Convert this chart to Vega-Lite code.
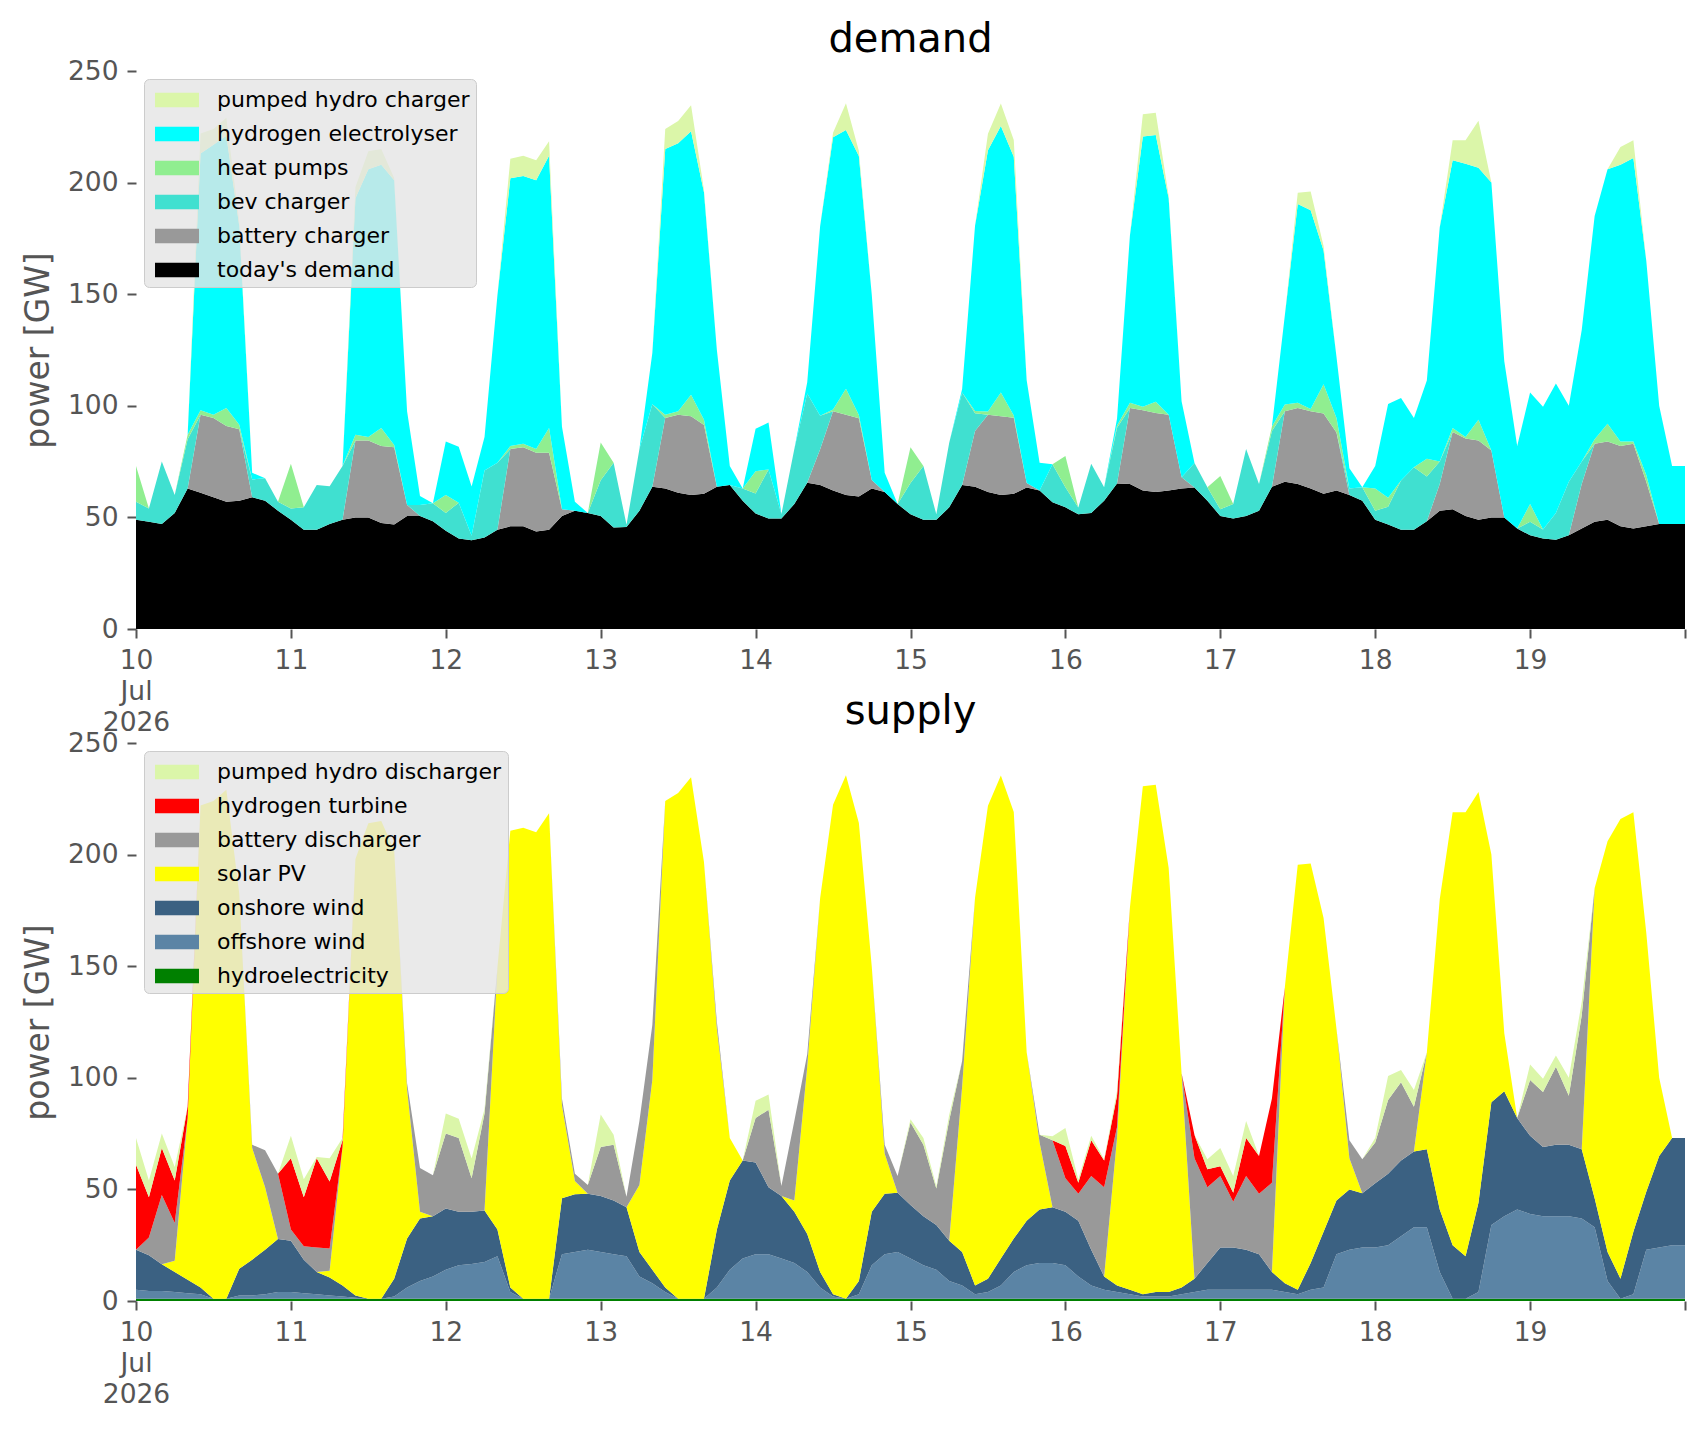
{
  "$schema": "https://vega.github.io/schema/vega-lite/v6.json",
  "background": "white",
  "padding": {"left": 22, "top": 20, "right": 20, "bottom": 5},
  "datasets": {
    "energy": [
      {"t":"2026-07-10T00:00","dm":49,"bt":0,"bv":8,"hp":16,"el":0,"pc":0,"hy":1,"of":4,"on":18,"pv":0,"bd":0,"ht":38,"pd":12},
      {"t":"2026-07-10T02:00","dm":48,"bt":0,"bv":6,"hp":0,"el":0,"pc":0,"hy":1,"of":3.5,"on":16,"pv":0,"bd":8,"ht":18,"pd":7.5},
      {"t":"2026-07-10T04:00","dm":47,"bt":0,"bv":28,"hp":0,"el":0,"pc":0,"hy":1,"of":3.5,"on":12,"pv":0,"bd":31,"ht":21,"pd":6.5},
      {"t":"2026-07-10T06:00","dm":52,"bt":0,"bv":8,"hp":0,"el":0,"pc":0,"hy":1,"of":3,"on":9,"pv":5,"bd":17,"ht":19,"pd":6},
      {"t":"2026-07-10T08:00","dm":63,"bt":0,"bv":22,"hp":2,"el":0,"pc":0,"hy":1,"of":2.5,"on":6,"pv":72.5,"bd":0,"ht":5,"pd":0},
      {"t":"2026-07-10T10:00","dm":61,"bt":35,"bv":0,"hp":2,"el":115,"pc":9,"hy":1,"of":2,"on":3,"pv":216,"bd":0,"ht":0,"pd":0},
      {"t":"2026-07-10T12:00","dm":59,"bt":35.5,"bv":0,"hp":1.5,"el":121,"pc":7,"hy":1,"of":0,"on":0,"pv":223,"bd":0,"ht":0,"pd":0},
      {"t":"2026-07-10T14:00","dm":57,"bt":34,"bv":0,"hp":8,"el":122,"pc":8,"hy":1,"of":0,"on":0,"pv":228,"bd":0,"ht":0,"pd":0},
      {"t":"2026-07-10T16:00","dm":57.5,"bt":32,"bv":0,"hp":2,"el":89,"pc":2,"hy":1,"of":1.5,"on":12,"pv":168,"bd":0,"ht":0,"pd":0},
      {"t":"2026-07-10T18:00","dm":59,"bt":0,"bv":8,"hp":0,"el":3,"pc":0,"hy":1,"of":1.5,"on":16,"pv":50,"bd":1.5,"ht":0,"pd":0},
      {"t":"2026-07-10T20:00","dm":57.5,"bt":0,"bv":10,"hp":0,"el":0,"pc":0,"hy":1,"of":2,"on":20,"pv":28,"bd":16.5,"ht":0,"pd":0},
      {"t":"2026-07-10T22:00","dm":53,"bt":0,"bv":4,"hp":0,"el":0,"pc":0,"hy":1,"of":3,"on":23.8,"pv":0,"bd":29.2,"ht":0,"pd":0},
      {"t":"2026-07-11T00:00","dm":49,"bt":0,"bv":5,"hp":20,"el":0,"pc":0,"hy":1,"of":3,"on":23,"pv":0,"bd":5,"ht":32,"pd":10},
      {"t":"2026-07-11T02:00","dm":44.5,"bt":0,"bv":10,"hp":0,"el":0,"pc":0,"hy":1,"of":2.5,"on":15,"pv":0,"bd":6,"ht":22,"pd":8},
      {"t":"2026-07-11T04:00","dm":44.5,"bt":0,"bv":20,"hp":0,"el":0,"pc":0,"hy":1,"of":2,"on":10,"pv":0,"bd":11,"ht":40,"pd":0.5},
      {"t":"2026-07-11T06:00","dm":47,"bt":0,"bv":17,"hp":0,"el":0,"pc":0,"hy":1,"of":1.5,"on":8,"pv":3,"bd":10,"ht":30,"pd":10.5},
      {"t":"2026-07-11T08:00","dm":49,"bt":0,"bv":24,"hp":0,"el":0,"pc":0,"hy":1,"of":1,"on":5,"pv":62,"bd":0,"ht":3,"pd":1},
      {"t":"2026-07-11T10:00","dm":50,"bt":34.5,"bv":0,"hp":2.5,"el":106,"pc":5,"hy":1,"of":0.5,"on":1,"pv":195.5,"bd":0,"ht":0,"pd":0},
      {"t":"2026-07-11T12:00","dm":50,"bt":34.5,"bv":0,"hp":1.5,"el":120,"pc":8,"hy":1,"of":0,"on":0,"pv":213,"bd":0,"ht":0,"pd":0},
      {"t":"2026-07-11T14:00","dm":47.5,"bt":34.5,"bv":0,"hp":8,"el":118,"pc":7,"hy":1,"of":0,"on":0,"pv":214,"bd":0,"ht":0,"pd":0},
      {"t":"2026-07-11T16:00","dm":46.8,"bt":34.6,"bv":0,"hp":1,"el":118.7,"pc":1,"hy":1,"of":1,"on":8,"pv":192.1,"bd":0,"ht":0,"pd":0},
      {"t":"2026-07-11T18:00","dm":50.6,"bt":5,"bv":0,"hp":0,"el":42,"pc":0,"hy":1,"of":5,"on":22,"pv":67,"bd":2.6,"ht":0,"pd":0},
      {"t":"2026-07-11T20:00","dm":50.6,"bt":0,"bv":5,"hp":0,"el":4,"pc":0,"hy":1,"of":8,"on":28,"pv":3,"bd":19.6,"ht":0,"pd":0},
      {"t":"2026-07-11T22:00","dm":48.3,"bt":0,"bv":8,"hp":0,"el":0,"pc":0,"hy":1,"of":10,"on":27,"pv":0,"bd":18.3,"ht":0,"pd":0},
      {"t":"2026-07-12T00:00","dm":44,"bt":0,"bv":8,"hp":8,"el":24,"pc":0,"hy":1,"of":13,"on":27.4,"pv":0,"bd":33.6,"ht":0,"pd":9},
      {"t":"2026-07-12T02:00","dm":40.6,"bt":0,"bv":16,"hp":0,"el":25,"pc":0,"hy":1,"of":15,"on":24,"pv":0,"bd":33,"ht":0,"pd":8.6},
      {"t":"2026-07-12T04:00","dm":39.8,"bt":0,"bv":2,"hp":0,"el":22,"pc":0,"hy":1,"of":15.6,"on":23.4,"pv":0,"bd":15,"ht":0,"pd":8.8},
      {"t":"2026-07-12T06:00","dm":41,"bt":0,"bv":30,"hp":0,"el":15,"pc":0,"hy":1,"of":16.5,"on":23,"pv":0,"bd":43.5,"ht":0,"pd":2},
      {"t":"2026-07-12T08:00","dm":44.5,"bt":0,"bv":30,"hp":0,"el":75,"pc":0,"hy":1,"of":19,"on":12,"pv":117.5,"bd":0,"ht":0,"pd":0},
      {"t":"2026-07-12T10:00","dm":46,"bt":34.6,"bv":0,"hp":1.4,"el":120,"pc":8.7,"hy":1,"of":3,"on":2,"pv":204.7,"bd":0,"ht":0,"pd":0},
      {"t":"2026-07-12T12:00","dm":46,"bt":35.4,"bv":0,"hp":1.6,"el":120,"pc":9,"hy":1,"of":0,"on":0,"pv":211,"bd":0,"ht":0,"pd":0},
      {"t":"2026-07-12T14:00","dm":43.7,"bt":35.3,"bv":0,"hp":1.6,"el":120.4,"pc":9,"hy":1,"of":0,"on":0,"pv":209,"bd":0,"ht":0,"pd":0},
      {"t":"2026-07-12T16:00","dm":44.5,"bt":34.5,"bv":0,"hp":11,"el":122,"pc":6.5,"hy":1,"of":0,"on":0,"pv":217.5,"bd":0,"ht":0,"pd":0},
      {"t":"2026-07-12T18:00","dm":50.6,"bt":3,"bv":0,"hp":0,"el":37,"pc":0,"hy":1,"of":20,"on":25,"pv":41.6,"bd":3,"ht":0,"pd":0},
      {"t":"2026-07-12T20:00","dm":53,"bt":0,"bv":0,"hp":0,"el":4,"pc":0,"hy":1,"of":21,"on":25.8,"pv":6,"bd":3.2,"ht":0,"pd":0},
      {"t":"2026-07-12T22:00","dm":52,"bt":0,"bv":0,"hp":0,"el":0,"pc":0,"hy":1,"of":22,"on":25,"pv":0,"bd":4,"ht":0,"pd":0},
      {"t":"2026-07-13T00:00","dm":50.6,"bt":0,"bv":16,"hp":17,"el":0,"pc":0,"hy":1,"of":21,"on":25,"pv":0,"bd":22,"ht":0,"pd":14.6},
      {"t":"2026-07-13T02:00","dm":45.5,"bt":0,"bv":29,"hp":0,"el":0,"pc":0,"hy":1,"of":20,"on":24,"pv":0,"bd":25,"ht":0,"pd":4.5},
      {"t":"2026-07-13T04:00","dm":45.7,"bt":0,"bv":1,"hp":0,"el":0,"pc":0,"hy":1,"of":19,"on":22,"pv":0,"bd":4.7,"ht":0,"pd":0},
      {"t":"2026-07-13T06:00","dm":53,"bt":0,"bv":27.6,"hp":0,"el":0,"pc":0,"hy":1,"of":10,"on":11,"pv":30,"bd":28.6,"ht":0,"pd":0},
      {"t":"2026-07-13T08:00","dm":63.7,"bt":0,"bv":37,"hp":0,"el":23,"pc":0,"hy":1,"of":7,"on":6,"pv":85,"bd":24.7,"ht":0,"pd":0},
      {"t":"2026-07-13T10:00","dm":63,"bt":31.5,"bv":0,"hp":1.5,"el":119,"pc":9,"hy":1,"of":3,"on":2,"pv":218,"bd":0,"ht":0,"pd":0},
      {"t":"2026-07-13T12:00","dm":61,"bt":35,"bv":0,"hp":1.6,"el":120,"pc":10,"hy":1,"of":0,"on":0,"pv":226.6,"bd":0,"ht":0,"pd":0},
      {"t":"2026-07-13T14:00","dm":60,"bt":35.3,"bv":0,"hp":9.7,"el":118,"pc":11.6,"hy":1,"of":0,"on":0,"pv":233.6,"bd":0,"ht":0,"pd":0},
      {"t":"2026-07-13T16:00","dm":60.6,"bt":30.8,"bv":0,"hp":2.3,"el":102,"pc":1,"hy":1,"of":0,"on":0,"pv":195.7,"bd":0,"ht":0,"pd":0},
      {"t":"2026-07-13T18:00","dm":63.7,"bt":0,"bv":0,"hp":0,"el":61.3,"pc":0,"hy":1,"of":5,"on":26,"pv":90,"bd":3,"ht":0,"pd":0},
      {"t":"2026-07-13T20:00","dm":64.5,"bt":0,"bv":0,"hp":0,"el":8.5,"pc":0,"hy":1,"of":13,"on":40,"pv":19,"bd":0,"ht":0,"pd":0},
      {"t":"2026-07-13T22:00","dm":57.5,"bt":0,"bv":5.5,"hp":0,"el":0,"pc":0,"hy":1,"of":18,"on":44,"pv":0,"bd":0,"ht":0,"pd":0},
      {"t":"2026-07-14T00:00","dm":51.7,"bt":0,"bv":9,"hp":10,"el":19,"pc":0,"hy":1,"of":20,"on":41,"pv":0,"bd":20,"ht":0,"pd":7.7},
      {"t":"2026-07-14T02:00","dm":49.5,"bt":0,"bv":22,"hp":0,"el":21,"pc":0,"hy":1,"of":20,"on":30,"pv":0,"bd":34.7,"ht":0,"pd":6.8},
      {"t":"2026-07-14T04:00","dm":49.5,"bt":0,"bv":2,"hp":0,"el":0,"pc":0,"hy":1,"of":18,"on":28,"pv":0,"bd":4.5,"ht":0,"pd":0},
      {"t":"2026-07-14T06:00","dm":56,"bt":0,"bv":24.6,"hp":0,"el":0,"pc":0,"hy":1,"of":16,"on":23,"pv":5,"bd":35.6,"ht":0,"pd":0},
      {"t":"2026-07-14T08:00","dm":65.5,"bt":0,"bv":40,"hp":0,"el":5,"pc":0,"hy":1,"of":12,"on":17,"pv":75,"bd":5.5,"ht":0,"pd":0},
      {"t":"2026-07-14T10:00","dm":64.5,"bt":16,"bv":15,"hp":0,"el":85,"pc":0,"hy":1,"of":5,"on":7,"pv":167.5,"bd":0,"ht":0,"pd":0},
      {"t":"2026-07-14T12:00","dm":62,"bt":35.6,"bv":0,"hp":0.7,"el":122,"pc":2,"hy":1,"of":1,"on":1,"pv":219.3,"bd":0,"ht":0,"pd":0},
      {"t":"2026-07-14T14:00","dm":60,"bt":36,"bv":0,"hp":11.6,"el":116,"pc":12,"hy":1,"of":0,"on":0,"pv":234.6,"bd":0,"ht":0,"pd":0},
      {"t":"2026-07-14T16:00","dm":59.4,"bt":35,"bv":0,"hp":1.5,"el":116,"pc":2.3,"hy":1,"of":2,"on":6,"pv":205.2,"bd":0,"ht":0,"pd":0},
      {"t":"2026-07-14T18:00","dm":63,"bt":3.8,"bv":0,"hp":0,"el":83,"pc":0,"hy":1,"of":15,"on":24,"pv":109.8,"bd":0,"ht":0,"pd":0},
      {"t":"2026-07-14T20:00","dm":61.4,"bt":0,"bv":0,"hp":0,"el":8.6,"pc":0,"hy":1,"of":20,"on":27,"pv":18,"bd":4,"ht":0,"pd":0},
      {"t":"2026-07-14T22:00","dm":56,"bt":0,"bv":0,"hp":0,"el":0,"pc":0,"hy":1,"of":21,"on":26.5,"pv":0,"bd":7.5,"ht":0,"pd":0},
      {"t":"2026-07-15T00:00","dm":51.4,"bt":0,"bv":14,"hp":16,"el":0,"pc":0,"hy":1,"of":18,"on":24,"pv":0,"bd":37,"ht":0,"pd":1.4},
      {"t":"2026-07-15T02:00","dm":49,"bt":0,"bv":24,"hp":0,"el":0,"pc":0,"hy":1,"of":15,"on":22,"pv":0,"bd":32,"ht":0,"pd":3},
      {"t":"2026-07-15T04:00","dm":49,"bt":0,"bv":2.4,"hp":0,"el":0,"pc":0,"hy":1,"of":13,"on":20,"pv":0,"bd":16.4,"ht":0,"pd":1},
      {"t":"2026-07-15T06:00","dm":54.5,"bt":0,"bv":29,"hp":0,"el":0,"pc":0,"hy":1,"of":8,"on":18,"pv":0,"bd":54,"ht":0,"pd":2.5},
      {"t":"2026-07-15T08:00","dm":64.5,"bt":0,"bv":41.5,"hp":0,"el":1.5,"pc":0,"hy":1,"of":6,"on":15,"pv":74,"bd":11.5,"ht":0,"pd":0},
      {"t":"2026-07-15T10:00","dm":63.7,"bt":25,"bv":8,"hp":1,"el":83,"pc":0,"hy":1,"of":2,"on":4,"pv":173.7,"bd":0,"ht":0,"pd":0},
      {"t":"2026-07-15T12:00","dm":61.4,"bt":34.6,"bv":0,"hp":1.5,"el":117,"pc":7.4,"hy":1,"of":3,"on":6,"pv":211.9,"bd":0,"ht":0,"pd":0},
      {"t":"2026-07-15T14:00","dm":60,"bt":35.3,"bv":0,"hp":10.7,"el":119.4,"pc":10,"hy":1,"of":6,"on":12,"pv":216.4,"bd":0,"ht":0,"pd":0},
      {"t":"2026-07-15T16:00","dm":60.6,"bt":34,"bv":0,"hp":1,"el":116,"pc":7.5,"hy":1,"of":12,"on":15,"pv":191.1,"bd":0,"ht":0,"pd":0},
      {"t":"2026-07-15T18:00","dm":63.4,"bt":2,"bv":0,"hp":0,"el":46,"pc":0,"hy":1,"of":15,"on":20,"pv":75.4,"bd":0,"ht":0,"pd":0},
      {"t":"2026-07-15T20:00","dm":62,"bt":0,"bv":0,"hp":0,"el":12.5,"pc":0,"hy":1,"of":16,"on":24,"pv":30,"bd":3.5,"ht":0,"pd":0},
      {"t":"2026-07-15T22:00","dm":56.8,"bt":0,"bv":17,"hp":0,"el":0,"pc":0,"hy":1,"of":16,"on":25,"pv":0,"bd":30,"ht":0,"pd":1.8},
      {"t":"2026-07-16T00:00","dm":54.5,"bt":0,"bv":9,"hp":14,"el":0,"pc":0,"hy":1,"of":15,"on":24,"pv":0,"bd":15,"ht":14.5,"pd":8},
      {"t":"2026-07-16T02:00","dm":51.4,"bt":0,"bv":3,"hp":0,"el":0,"pc":0,"hy":1,"of":10,"on":25,"pv":0,"bd":12,"ht":5,"pd":1.4},
      {"t":"2026-07-16T04:00","dm":52,"bt":0,"bv":22,"hp":0,"el":0,"pc":0,"hy":1,"of":6,"on":16,"pv":0,"bd":33,"ht":16,"pd":2},
      {"t":"2026-07-16T06:00","dm":57.5,"bt":0,"bv":6,"hp":0,"el":0,"pc":0,"hy":1,"of":4,"on":6,"pv":0,"bd":40,"ht":12,"pd":0.5},
      {"t":"2026-07-16T08:00","dm":65.2,"bt":0,"bv":25,"hp":1,"el":3,"pc":0,"hy":1,"of":3,"on":3,"pv":66,"bd":5,"ht":14,"pd":2.2},
      {"t":"2026-07-16T10:00","dm":65,"bt":34,"bv":0,"hp":2.4,"el":75,"pc":0,"hy":1,"of":2,"on":2,"pv":171.4,"bd":0,"ht":0,"pd":0},
      {"t":"2026-07-16T12:00","dm":62,"bt":36,"bv":0,"hp":1.6,"el":121,"pc":10,"hy":1,"of":1,"on":1,"pv":227.6,"bd":0,"ht":0,"pd":0},
      {"t":"2026-07-16T14:00","dm":61.4,"bt":35.4,"bv":0,"hp":5,"el":119.5,"pc":10,"hy":1,"of":1,"on":2,"pv":227.3,"bd":0,"ht":0,"pd":0},
      {"t":"2026-07-16T16:00","dm":62,"bt":34,"bv":0,"hp":0,"el":97,"pc":1,"hy":1,"of":1,"on":2,"pv":190,"bd":0,"ht":0,"pd":0},
      {"t":"2026-07-16T18:00","dm":63,"bt":5,"bv":0,"hp":0,"el":34,"pc":0,"hy":1,"of":2,"on":3,"pv":96,"bd":0,"ht":0,"pd":0},
      {"t":"2026-07-16T20:00","dm":63.4,"bt":0,"bv":11,"hp":0,"el":0,"pc":0,"hy":1,"of":3,"on":6,"pv":0,"bd":54,"ht":10.4,"pd":0},
      {"t":"2026-07-16T22:00","dm":57.5,"bt":0,"bv":6,"hp":0,"el":0,"pc":0,"hy":1,"of":4,"on":12,"pv":0,"bd":34,"ht":8,"pd":4.5},
      {"t":"2026-07-17T00:00","dm":50.6,"bt":0,"bv":3,"hp":15,"el":0,"pc":0,"hy":1,"of":4,"on":19,"pv":0,"bd":32,"ht":4.4,"pd":8.2},
      {"t":"2026-07-17T02:00","dm":49.5,"bt":0,"bv":6.5,"hp":0,"el":0,"pc":0,"hy":1,"of":4,"on":19,"pv":0,"bd":20.5,"ht":4,"pd":7.5},
      {"t":"2026-07-17T04:00","dm":50.6,"bt":0,"bv":30,"hp":0,"el":0,"pc":0,"hy":1,"of":4,"on":18,"pv":0,"bd":33,"ht":17,"pd":7.6},
      {"t":"2026-07-17T06:00","dm":53,"bt":0,"bv":12,"hp":0,"el":0,"pc":0,"hy":1,"of":4,"on":16,"pv":0,"bd":27,"ht":17,"pd":0},
      {"t":"2026-07-17T08:00","dm":63.7,"bt":0,"bv":25,"hp":2,"el":0,"pc":0,"hy":1,"of":4,"on":8,"pv":0,"bd":40,"ht":37.7,"pd":0},
      {"t":"2026-07-17T10:00","dm":66,"bt":31.6,"bv":0,"hp":3,"el":40,"pc":0,"hy":1,"of":3,"on":4,"pv":132.6,"bd":0,"ht":0,"pd":0},
      {"t":"2026-07-17T12:00","dm":65,"bt":34,"bv":0,"hp":2.4,"el":89,"pc":5,"hy":1,"of":2,"on":2,"pv":190.4,"bd":0,"ht":0,"pd":0},
      {"t":"2026-07-17T14:00","dm":63,"bt":34.6,"bv":0,"hp":1,"el":89,"pc":8.4,"hy":1,"of":4,"on":12,"pv":179,"bd":0,"ht":0,"pd":0},
      {"t":"2026-07-17T16:00","dm":60.6,"bt":36,"bv":0,"hp":13,"el":60,"pc":2,"hy":1,"of":5,"on":25,"pv":140.6,"bd":0,"ht":0,"pd":0},
      {"t":"2026-07-17T18:00","dm":62,"bt":26,"bv":0,"hp":6.5,"el":27.5,"pc":0,"hy":1,"of":20,"on":24,"pv":77,"bd":0,"ht":0,"pd":0},
      {"t":"2026-07-17T20:00","dm":60,"bt":0,"bv":3,"hp":0,"el":9,"pc":0,"hy":1,"of":22,"on":27,"pv":14,"bd":8,"ht":0,"pd":0},
      {"t":"2026-07-17T22:00","dm":57.5,"bt":0,"bv":6,"hp":0,"el":0,"pc":0,"hy":1,"of":23,"on":24.3,"pv":0,"bd":15.2,"ht":0,"pd":0},
      {"t":"2026-07-18T00:00","dm":49,"bt":0,"bv":4,"hp":10,"el":10,"pc":0,"hy":1,"of":23,"on":28.8,"pv":0,"bd":18.2,"ht":0,"pd":2},
      {"t":"2026-07-18T02:00","dm":46.8,"bt":0,"bv":8,"hp":4,"el":42,"pc":0,"hy":1,"of":24,"on":32,"pv":0,"bd":33,"ht":0,"pd":10.8},
      {"t":"2026-07-18T04:00","dm":44.5,"bt":0,"bv":22,"hp":0,"el":37,"pc":0,"hy":1,"of":28,"on":34,"pv":0,"bd":35,"ht":0,"pd":5.5},
      {"t":"2026-07-18T06:00","dm":44.5,"bt":0,"bv":28,"hp":0,"el":22,"pc":0,"hy":1,"of":32,"on":34,"pv":0,"bd":20,"ht":0,"pd":7.5},
      {"t":"2026-07-18T08:00","dm":48.3,"bt":0,"bv":20,"hp":8,"el":35,"pc":0,"hy":1,"of":32,"on":35,"pv":43.3,"bd":0,"ht":0,"pd":0},
      {"t":"2026-07-18T10:00","dm":53,"bt":12,"bv":10,"hp":0,"el":105,"pc":0,"hy":1,"of":12,"on":28,"pv":139,"bd":0,"ht":0,"pd":0},
      {"t":"2026-07-18T12:00","dm":53.7,"bt":34.6,"bv":0,"hp":1.7,"el":120,"pc":9,"hy":1,"of":0,"on":24,"pv":194,"bd":0,"ht":0,"pd":0},
      {"t":"2026-07-18T14:00","dm":50.6,"bt":34.7,"bv":0,"hp":0.7,"el":122.4,"pc":10.6,"hy":1,"of":0,"on":19,"pv":199,"bd":0,"ht":0,"pd":0},
      {"t":"2026-07-18T16:00","dm":49,"bt":35.5,"bv":0,"hp":9.2,"el":113,"pc":21,"hy":1,"of":3,"on":40,"pv":184,"bd":0,"ht":0,"pd":0},
      {"t":"2026-07-18T18:00","dm":50,"bt":30,"bv":0,"hp":0,"el":120,"pc":0,"hy":1,"of":33,"on":55,"pv":111,"bd":0,"ht":0,"pd":0},
      {"t":"2026-07-18T20:00","dm":50,"bt":0,"bv":0,"hp":0,"el":70,"pc":0,"hy":1,"of":37,"on":56,"pv":26,"bd":0,"ht":0,"pd":0},
      {"t":"2026-07-18T22:00","dm":45,"bt":0,"bv":0,"hp":0,"el":37,"pc":0,"hy":1,"of":40,"on":41,"pv":0,"bd":0,"ht":0,"pd":0},
      {"t":"2026-07-19T00:00","dm":42,"bt":0,"bv":6,"hp":8,"el":50,"pc":0,"hy":1,"of":38,"on":35,"pv":0,"bd":25,"ht":0,"pd":7},
      {"t":"2026-07-19T02:00","dm":40.6,"bt":0,"bv":4,"hp":0,"el":55,"pc":0,"hy":1,"of":37,"on":31,"pv":0,"bd":24.6,"ht":0,"pd":6},
      {"t":"2026-07-19T04:00","dm":40,"bt":0,"bv":12,"hp":0,"el":58,"pc":0,"hy":1,"of":37,"on":32,"pv":0,"bd":35,"ht":0,"pd":5},
      {"t":"2026-07-19T06:00","dm":42,"bt":0,"bv":24,"hp":0,"el":34,"pc":0,"hy":1,"of":37,"on":32,"pv":0,"bd":22,"ht":0,"pd":8},
      {"t":"2026-07-19T08:00","dm":45,"bt":20,"bv":10,"hp":0,"el":59,"pc":0,"hy":1,"of":36,"on":31,"pv":0,"bd":60,"ht":0,"pd":6},
      {"t":"2026-07-19T10:00","dm":48,"bt":35,"bv":0,"hp":2,"el":100,"pc":0,"hy":1,"of":32,"on":13,"pv":139,"bd":0,"ht":0,"pd":0},
      {"t":"2026-07-19T12:00","dm":49,"bt":35,"bv":0,"hp":8,"el":114,"pc":0,"hy":1,"of":8,"on":13,"pv":184,"bd":0,"ht":0,"pd":0},
      {"t":"2026-07-19T14:00","dm":46,"bt":36,"bv":0,"hp":2,"el":124,"pc":8,"hy":1,"of":0,"on":9,"pv":206,"bd":0,"ht":0,"pd":0},
      {"t":"2026-07-19T16:00","dm":45,"bt":38,"bv":0,"hp":1,"el":127,"pc":8,"hy":1,"of":2,"on":28,"pv":188,"bd":0,"ht":0,"pd":0},
      {"t":"2026-07-19T18:00","dm":46,"bt":20,"bv":0,"hp":3,"el":96,"pc":0,"hy":1,"of":22,"on":26,"pv":116,"bd":0,"ht":0,"pd":0},
      {"t":"2026-07-19T20:00","dm":47,"bt":0,"bv":0,"hp":0,"el":53,"pc":0,"hy":1,"of":23,"on":41,"pv":35,"bd":0,"ht":0,"pd":0},
      {"t":"2026-07-19T22:00","dm":47,"bt":0,"bv":0,"hp":0,"el":26,"pc":0,"hy":1,"of":24,"on":48,"pv":0,"bd":0,"ht":0,"pd":0},
      {"t":"2026-07-20T00:00","dm":47,"bt":0,"bv":0,"hp":0,"el":26,"pc":0,"hy":1,"of":24,"on":48,"pv":0,"bd":0,"ht":0,"pd":0}
    ],
    "dmeta": [
      {"k": "dm", "label": "today's demand", "rank": 0},
      {"k": "bt", "label": "battery charger", "rank": 1},
      {"k": "bv", "label": "bev charger", "rank": 2},
      {"k": "hp", "label": "heat pumps", "rank": 3},
      {"k": "el", "label": "hydrogen electrolyser", "rank": 4},
      {"k": "pc", "label": "pumped hydro charger", "rank": 5}
    ],
    "smeta": [
      {"k": "hy", "label": "hydroelectricity", "rank": 0},
      {"k": "of", "label": "offshore wind", "rank": 1},
      {"k": "on", "label": "onshore wind", "rank": 2},
      {"k": "pv", "label": "solar PV", "rank": 3},
      {"k": "bd", "label": "battery discharger", "rank": 4},
      {"k": "ht", "label": "hydrogen turbine", "rank": 5},
      {"k": "pd", "label": "pumped hydro discharger", "rank": 6}
    ]
  },
  "vconcat": [
    {
      "title": "demand",
      "width": 1549,
      "height": 558,
      "data": {"name": "energy"},
      "transform": [
        {"fold": ["dm", "bt", "bv", "hp", "el", "pc"], "as": ["k", "p"]},
        {"lookup": "k", "from": {"data": {"name": "dmeta"}, "key": "k", "fields": ["label", "rank"]}}
      ],
      "mark": {"type": "area", "interpolate": "linear", "opacity": 1},
      "encoding": {
        "x": {
          "field": "t", "type": "temporal",
          "scale": {"domain": [{"year": 2026, "month": 7, "date": 10}, {"year": 2026, "month": 7, "date": 20}], "nice": false},
          "axis": {
            "title": null,
            "values": [
              {"year": 2026, "month": 7, "date": 10}, {"year": 2026, "month": 7, "date": 11},
              {"year": 2026, "month": 7, "date": 12}, {"year": 2026, "month": 7, "date": 13},
              {"year": 2026, "month": 7, "date": 14}, {"year": 2026, "month": 7, "date": 15},
              {"year": 2026, "month": 7, "date": 16}, {"year": 2026, "month": 7, "date": 17},
              {"year": 2026, "month": 7, "date": 18}, {"year": 2026, "month": 7, "date": 19},
              {"year": 2026, "month": 7, "date": 20}
            ],
            "labelExpr": "date(datum.value) == 10 ? ['10', 'Jul', '2026'] : (date(datum.value) == 20 ? '' : '' + date(datum.value))"
          }
        },
        "y": {
          "field": "p", "type": "quantitative", "stack": "zero",
          "scale": {"domain": [0, 250], "nice": false},
          "axis": {"title": "power [GW]", "values": [0, 50, 100, 150, 200, 250]}
        },
        "color": {
          "field": "label", "type": "nominal",
          "scale": {
            "domain": ["pumped hydro charger", "hydrogen electrolyser", "heat pumps", "bev charger", "battery charger", "today's demand"],
            "range": ["#dbf6a9", "#00ffff", "#90ee90", "#40e0d0", "#999999", "#000000"]
          },
          "legend": {"title": null, "orient": "top-left"}
        },
        "order": {"field": "rank", "type": "quantitative", "sort": "ascending"}
      }
    },
    {
      "title": "supply",
      "width": 1549,
      "height": 558,
      "data": {"name": "energy"},
      "transform": [
        {"fold": ["hy", "of", "on", "pv", "bd", "ht", "pd"], "as": ["k", "p"]},
        {"lookup": "k", "from": {"data": {"name": "smeta"}, "key": "k", "fields": ["label", "rank"]}}
      ],
      "mark": {"type": "area", "interpolate": "linear", "opacity": 1},
      "encoding": {
        "x": {
          "field": "t", "type": "temporal",
          "scale": {"domain": [{"year": 2026, "month": 7, "date": 10}, {"year": 2026, "month": 7, "date": 20}], "nice": false},
          "axis": {
            "title": null,
            "values": [
              {"year": 2026, "month": 7, "date": 10}, {"year": 2026, "month": 7, "date": 11},
              {"year": 2026, "month": 7, "date": 12}, {"year": 2026, "month": 7, "date": 13},
              {"year": 2026, "month": 7, "date": 14}, {"year": 2026, "month": 7, "date": 15},
              {"year": 2026, "month": 7, "date": 16}, {"year": 2026, "month": 7, "date": 17},
              {"year": 2026, "month": 7, "date": 18}, {"year": 2026, "month": 7, "date": 19},
              {"year": 2026, "month": 7, "date": 20}
            ],
            "labelExpr": "date(datum.value) == 10 ? ['10', 'Jul', '2026'] : (date(datum.value) == 20 ? '' : '' + date(datum.value))"
          }
        },
        "y": {
          "field": "p", "type": "quantitative", "stack": "zero",
          "scale": {"domain": [0, 250], "nice": false},
          "axis": {"title": "power [GW]", "values": [0, 50, 100, 150, 200, 250]}
        },
        "color": {
          "field": "label", "type": "nominal",
          "scale": {
            "domain": ["pumped hydro discharger", "hydrogen turbine", "battery discharger", "solar PV", "onshore wind", "offshore wind", "hydroelectricity"],
            "range": ["#dbf6a9", "#ff0000", "#999999", "#ffff00", "#3b6182", "#5b84a5", "#008000"]
          },
          "legend": {"title": null, "orient": "top-left"}
        },
        "order": {"field": "rank", "type": "quantitative", "sort": "ascending"}
      }
    }
  ],
  "spacing": 114,
  "bounds": "flush",
  "resolve": {
    "scale": {"x": "independent", "y": "independent", "color": "independent"},
    "axis": {"x": "independent", "y": "independent"},
    "legend": {"color": "independent"}
  },
  "config": {
    "font": "DejaVu Sans",
    "view": {"stroke": null},
    "title": {"fontSize": 40, "fontWeight": "normal", "color": "#000000", "anchor": "middle", "frame": "group", "baseline": "alphabetic", "offset": -2},
    "axis": {
      "domain": false, "grid": false,
      "tickColor": "#555555", "tickWidth": 2, "tickSize": 9,
      "labelColor": "#555555", "labelFontSize": 26.5, "labelPadding": 9,
      "titleColor": "#555555", "titleFontSize": 33, "titleFontWeight": "normal"
    },
    "axisY": {"titlePadding": 12},
    "axisX": {"labelFlush": false, "labelOverlap": false, "labelLineHeight": 31, "labelAlign": "center"},
    "legend": {
      "offset": 8, "padding": 6,
      "fillColor": "rgba(229,229,229,0.8)", "strokeColor": "#cccccc", "cornerRadius": 5,
      "labelFontSize": 22, "labelColor": "#000000", "labelLimit": 600,
      "symbolType": "M-1.5,-0.5H1.5V0.5H-1.5Z", "symbolSize": 860, "symbolStrokeWidth": 0,
      "symbolOpacity": 1, "symbolOffset": 12, "labelOffset": 25, "rowPadding": 8
    }
  }
}
